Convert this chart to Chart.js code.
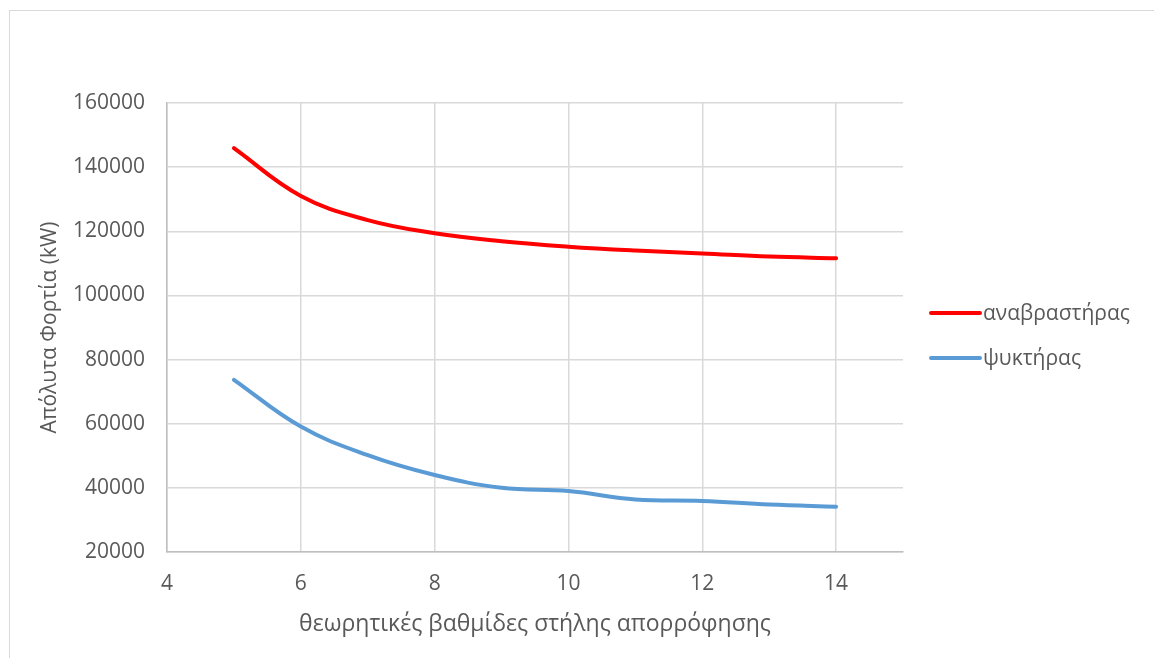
<!DOCTYPE html>
<html>
<head>
<meta charset="utf-8">
<script src="https://cdn.jsdelivr.net/npm/chart.js@4.4.1/dist/chart.umd.min.js"></script>
<style>
  html, body { margin: 0; padding: 0; background: #fff; }
  body { width: 1154px; height: 658px; position: relative; overflow: hidden; }
  #frame { position: absolute; left: 9px; top: 10px; width: 1160px; height: 670px; border: 1px solid #d9d9d9; box-sizing: border-box; }
  #wrap { position: absolute; left: 0; top: 0; width: 1154px; height: 658px; }
</style>
</head>
<body>
<div id="frame"></div>
<div id="wrap"><canvas id="c" width="1154" height="658"></canvas></div>
<script>
// ---- data ----
const stages = [5, 6, 7, 8, 9, 10, 11, 12, 13, 14];
const reboilerLoad = [145900, 131000, 123500, 119400, 116900, 115200, 114000, 113100, 112100, 111600];
const condenserLoad = [73700, 59100, 50200, 44000, 40000, 39000, 36400, 35900, 34800, 34100];
const seriesNames = ['αναβραστήρας', 'ψυκτήρας'];
const xTitle = 'θεωρητικές βαθμίδες στήλης απορρόφησης';
const yTitle = 'Απόλυτα Φορτία (kW)';
const xTickValues = [4, 6, 8, 10, 12, 14];
const yTickValues = [20000, 40000, 60000, 80000, 100000, 120000, 140000, 160000];

const FONT = "'Open Sans', 'DejaVu Sans', sans-serif";
const TXT = '#595959';

const legendPlugin = {
  id: 'customLegend',
  afterDraw(chart) {
    const ctx = chart.ctx;
    const ys = [313, 358];
    ctx.save();
    chart.data.datasets.forEach((ds, i) => {
      ctx.strokeStyle = ds.borderColor;
      ctx.lineWidth = 4;
      ctx.lineCap = 'round';
      ctx.beginPath();
      ctx.moveTo(931, ys[i]);
      ctx.lineTo(980, ys[i]);
      ctx.stroke();
      ctx.fillStyle = TXT;
      ctx.font = '21px ' + FONT;
      ctx.textBaseline = 'middle';
      ctx.textAlign = 'left';
      ctx.fillText(ds.label, 983, ys[i] + 1);
    });
    ctx.restore();
  }
};

new Chart(document.getElementById('c'), {
  type: 'line',
  data: {
    datasets: [
      { label: seriesNames[0], data: stages.map((x, i) => ({ x, y: reboilerLoad[i] })), borderColor: '#ff0000', borderWidth: 4, pointRadius: 0, tension: 0.4, fill: false, borderCapStyle: 'round' },
      { label: seriesNames[1], data: stages.map((x, i) => ({ x, y: condenserLoad[i] })), borderColor: '#5b9bd5', borderWidth: 4, pointRadius: 0, tension: 0.4, fill: false, borderCapStyle: 'round' }
    ]
  },
  options: {
    responsive: false,
    animation: false,
    layout: { padding: { left: 27, right: 251, top: 103, bottom: 10 } },
    plugins: { legend: { display: false }, tooltip: { enabled: false } },
    scales: {
      x: {
        type: 'linear', min: 4, max: 15,
        afterBuildTicks(scale) { scale.ticks = xTickValues.map(v => ({ value: v })); },
        afterFit(scale) { scale.height = 658 - 10 - 552; },
        grid: { color: '#d9d9d9', lineWidth: 1.5, drawTicks: false },
        border: { color: '#bfbfbf', width: 1.5 },
        ticks: { color: TXT, font: { family: FONT, size: 21 }, padding: 19, maxRotation: 0 },
        title: { display: true, text: xTitle, color: TXT, font: { family: FONT, size: 23 }, padding: { top: 0, bottom: 10 } }
      },
      y: {
        min: 20000, max: 160000,
        afterBuildTicks(scale) { scale.ticks = yTickValues.map(v => ({ value: v })); },
        afterFit(scale) { scale.width = 167 - 27; },
        grid: { color: '#d9d9d9', lineWidth: 1.5, drawTicks: false },
        border: { color: '#bfbfbf', width: 1.5 },
        ticks: { color: TXT, font: { family: FONT, size: 21 }, padding: 22, callback: v => String(v) },
        title: { display: true, text: yTitle, color: TXT, font: { family: FONT, size: 21 }, padding: { top: 10, bottom: 0 } }
      }
    }
  },
  plugins: [legendPlugin]
});
</script>
</body>
</html>
